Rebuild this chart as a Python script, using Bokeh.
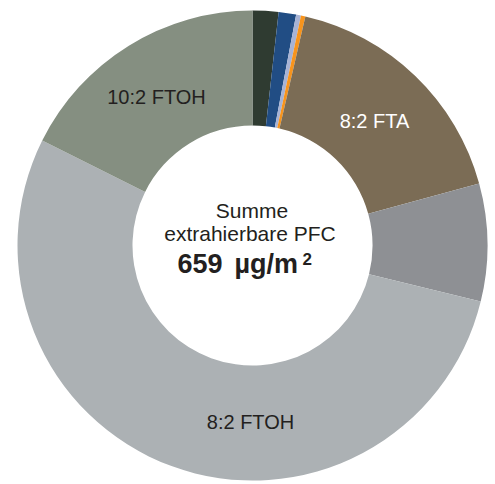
import numpy as np
from bokeh.plotting import figure
from bokeh.models import ColumnDataSource, Range1d
from bokeh.core.properties import value
from bokeh.embed import file_html
from bokeh.resources import INLINE

# Data (µg/m², clockwise from 12 o'clock), total 659 µg/m²
categories = ["PFC a", "PFC b", "PFC c", "PFC d", "8:2 FTA", "PFC e", "8:2 FTOH", "10:2 FTOH"]
values = [11.7, 7.9, 2.2, 2.0, 112.9, 53.3, 352.7, 116.2]
colors = ["#2f3b31", "#214d84", "#a7b3d5", "#f7941d", "#7b6c55", "#8e9094", "#acb1b4", "#858f81"]
total_label = "659"
unit_label = "µg/m"
sup_label = "2"
title_lines = ["Summe", "extrahierbare PFC"]

W, H = 495, 484
cx, cy = 252, 239
r_out, r_in = 235, 120

vals = np.array(values, dtype=float)
frac = vals / vals.sum()
cum_end = np.cumsum(frac)
cum_start = cum_end - frac
start = np.pi / 2 - 2 * np.pi * cum_start
end = np.pi / 2 - 2 * np.pi * cum_end

src = ColumnDataSource(dict(cat=categories, val=values, color=colors, start=start, end=end))

p = figure(width=W, height=H, output_backend="svg", toolbar_location=None,
           x_range=Range1d(0, W), y_range=Range1d(0, H),
           x_axis_type=None, y_axis_type=None, min_border=0)
p.outline_line_color = None
p.grid.visible = False
p.background_fill_color = "white"
p.border_fill_color = "white"

p.annular_wedge(x=cx, y=cy, inner_radius=r_in, outer_radius=r_out,
                start_angle="start", end_angle="end", direction="clock",
                fill_color="color", line_color=None, source=src)

font = value("Liberation Sans")
txt = "#231f20"
dy = 7

# slice labels
p.text(x=[156], y=[381 + dy], text=["10:2 FTOH"], text_font=font, text_font_size="20px",
       text_color=txt, text_align="center", text_baseline="alphabetic")
p.text(x=[374], y=[357 + dy], text=["8:2 FTA"], text_font=font, text_font_size="20px",
       text_color="white", text_align="center", text_baseline="alphabetic")
p.text(x=[250], y=[56 + dy], text=["8:2 FTOH"], text_font=font, text_font_size="20px",
       text_color=txt, text_align="center", text_baseline="alphabetic")

# center text
p.text(x=[251.5], y=[267 + dy], text=[title_lines[0]], text_font=font, text_font_size="21px",
       text_color=txt, text_align="center", text_baseline="alphabetic")
p.text(x=[249.5], y=[244 + dy], text=[title_lines[1]], text_font=font, text_font_size="21px",
       text_color=txt, text_align="center", text_baseline="alphabetic")
p.text(x=[222], y=[214 + dy], text=[total_label], text_font=font, text_font_size="27px",
       text_font_style="bold", text_color=txt, text_align="right", text_baseline="alphabetic")
p.text(x=[234], y=[214 + dy], text=[unit_label], text_font=font, text_font_size="27px",
       text_font_style="bold", text_color=txt, text_align="left", text_baseline="alphabetic")
p.text(x=[302], y=[219 + dy], text=[sup_label], text_font=font, text_font_size="17px",
       text_font_style="bold", text_color=txt, text_align="left", text_baseline="alphabetic")

open("out.html", "w").write(file_html(p, INLINE))
